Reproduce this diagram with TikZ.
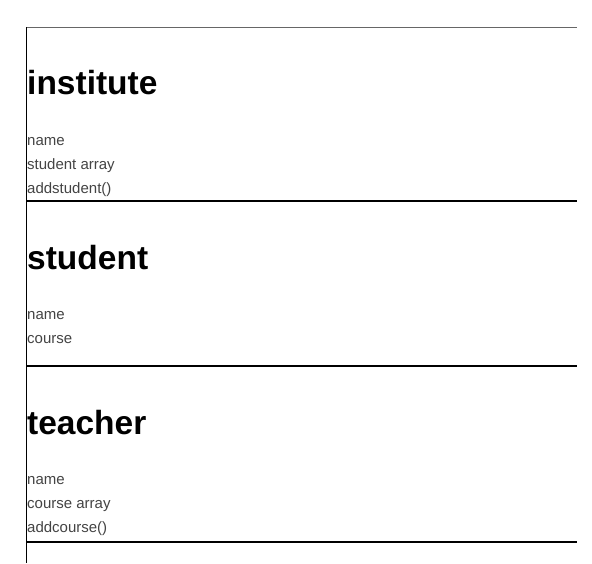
\documentclass[tikz,border=0pt]{standalone}
\usepackage{fontspec}
\setmainfont{Liberation Sans}
\definecolor{attrgray}{HTML}{444444}
\definecolor{topgray}{HTML}{666666}
\tikzset{
  heading/.style={anchor=base west, inner sep=0pt, font=\fontsize{33.5}{40}\selectfont\bfseries, text=black},
  attr/.style={anchor=base west, inner sep=0pt, font=\fontsize{15}{18}\selectfont, text=attrgray},
  sepline/.style={line width=2pt, black},
}
\begin{document}
\begin{tikzpicture}[x=1pt,y=-1pt]
\useasboundingbox (0,0) rectangle (592,563);
\fill[white] (0,0) rectangle (592,563);
% frame
\coordinate (tl) at (26.5,27);
\coordinate (tr) at (577,27);
\coordinate (bl) at (26.5,563);
\draw[topgray, line width=1pt] (tl) -- (tr);
\draw[black, line width=1pt] (tl) -- (bl);
% institute
\node[heading] (h1) at (27,94) {institute};
\node[attr] (a11) at (27,145) {name};
\node[attr] (a12) at (27,169) {student array};
\node[attr] (a13) at (27,193) {addstudent()};
\coordinate (s1l) at (26.5,201);
\coordinate (s1r) at (577,201);
\draw[sepline] (s1l) -- (s1r);
% student
\node[heading] (h2) at (27,269) {student};
\node[attr] (a21) at (27,319) {name};
\node[attr] (a22) at (27,343) {course};
\coordinate (s2l) at (26.5,366);
\coordinate (s2r) at (577,366);
\draw[sepline] (s2l) -- (s2r);
% teacher
\node[heading] (h3) at (27,434) {teacher};
\node[attr] (a31) at (27,484) {name};
\node[attr] (a32) at (27,508) {course array};
\node[attr] (a33) at (27,532) {addcourse()};
\coordinate (s3l) at (26.5,541.5);
\coordinate (s3r) at (577,541.5);
\draw[sepline] (s3l) -- (s3r);
\end{tikzpicture}
\end{document}
